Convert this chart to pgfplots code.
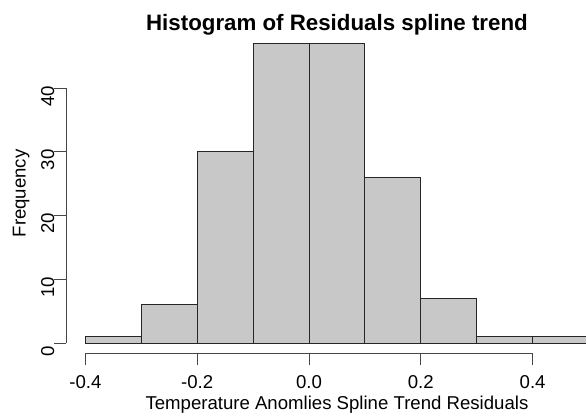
\documentclass[border=0pt]{standalone}
\usepackage{pgfplots}
\pgfplotsset{compat=1.18}
\usepackage{fontspec}
\setmainfont{Liberation Sans}
\definecolor{barfill}{RGB}{200,200,200}
\definecolor{axisgray}{RGB}{70,70,70}

\begin{document}
\begin{tikzpicture}
\begin{axis}[
  scale only axis, width=520pt, height=319.8pt,
  xmin=-0.4347, xmax=0.4955, ymin=-1.6, ymax=48.6,
  axis line style={draw=none},
  clip mode=individual,
  tick align=outside, major tick length=12pt,
  tick style={axisgray, line width=0.9pt},
  xtick pos=bottom, ytick pos=left,
  xtick={-0.4,-0.2,0,0.2,0.4},
  xticklabels={-0.4,-0.2,0.0,0.2,0.4},
  ytick={0,10,20,30,40},
  /pgf/number format/assume math mode=true,
  tick label style={font=\fontsize{18.6}{20}\selectfont},
  x tick label style={anchor=base, yshift=-23pt},
  y tick label style={rotate=90, anchor=base, xshift=-8pt},
]
\addplot[ybar interval, fill=barfill, draw=black!85, line width=0.9pt] coordinates
{(-0.4,1) (-0.3,6) (-0.2,30) (-0.1,47) (0,47) (0.1,26) (0.2,7) (0.3,1) (0.4,1) (0.5,1)};
\draw[axisgray, line width=0.9pt] (axis cs:-0.4,-1.6) -- (axis cs:0.4,-1.6);
\draw[axisgray, line width=0.9pt] (axis cs:-0.4347,0) -- (axis cs:-0.4347,40);
\node[anchor=base, font=\fontsize{22.3}{24}\selectfont\bfseries] at (axis cs:0.05,49.1) {Histogram of Residuals spline trend};
\node[anchor=base, font=\fontsize{18.6}{20}\selectfont] at (axis cs:0.05,-10.36) {Temperature Anomlies Spline Trend Residuals};
\node[anchor=base, rotate=90, font=\fontsize{18.6}{20}\selectfont] at (axis cs:-0.5068,23.5) {Frequency};
\coordinate (bl) at (axis cs:-0.5528,-11.46);
\coordinate (tr) at (axis cs:0.4955,53.85);
\end{axis}
\pgfresetboundingbox
\useasboundingbox (bl) rectangle (tr);
\end{tikzpicture}
\end{document}
